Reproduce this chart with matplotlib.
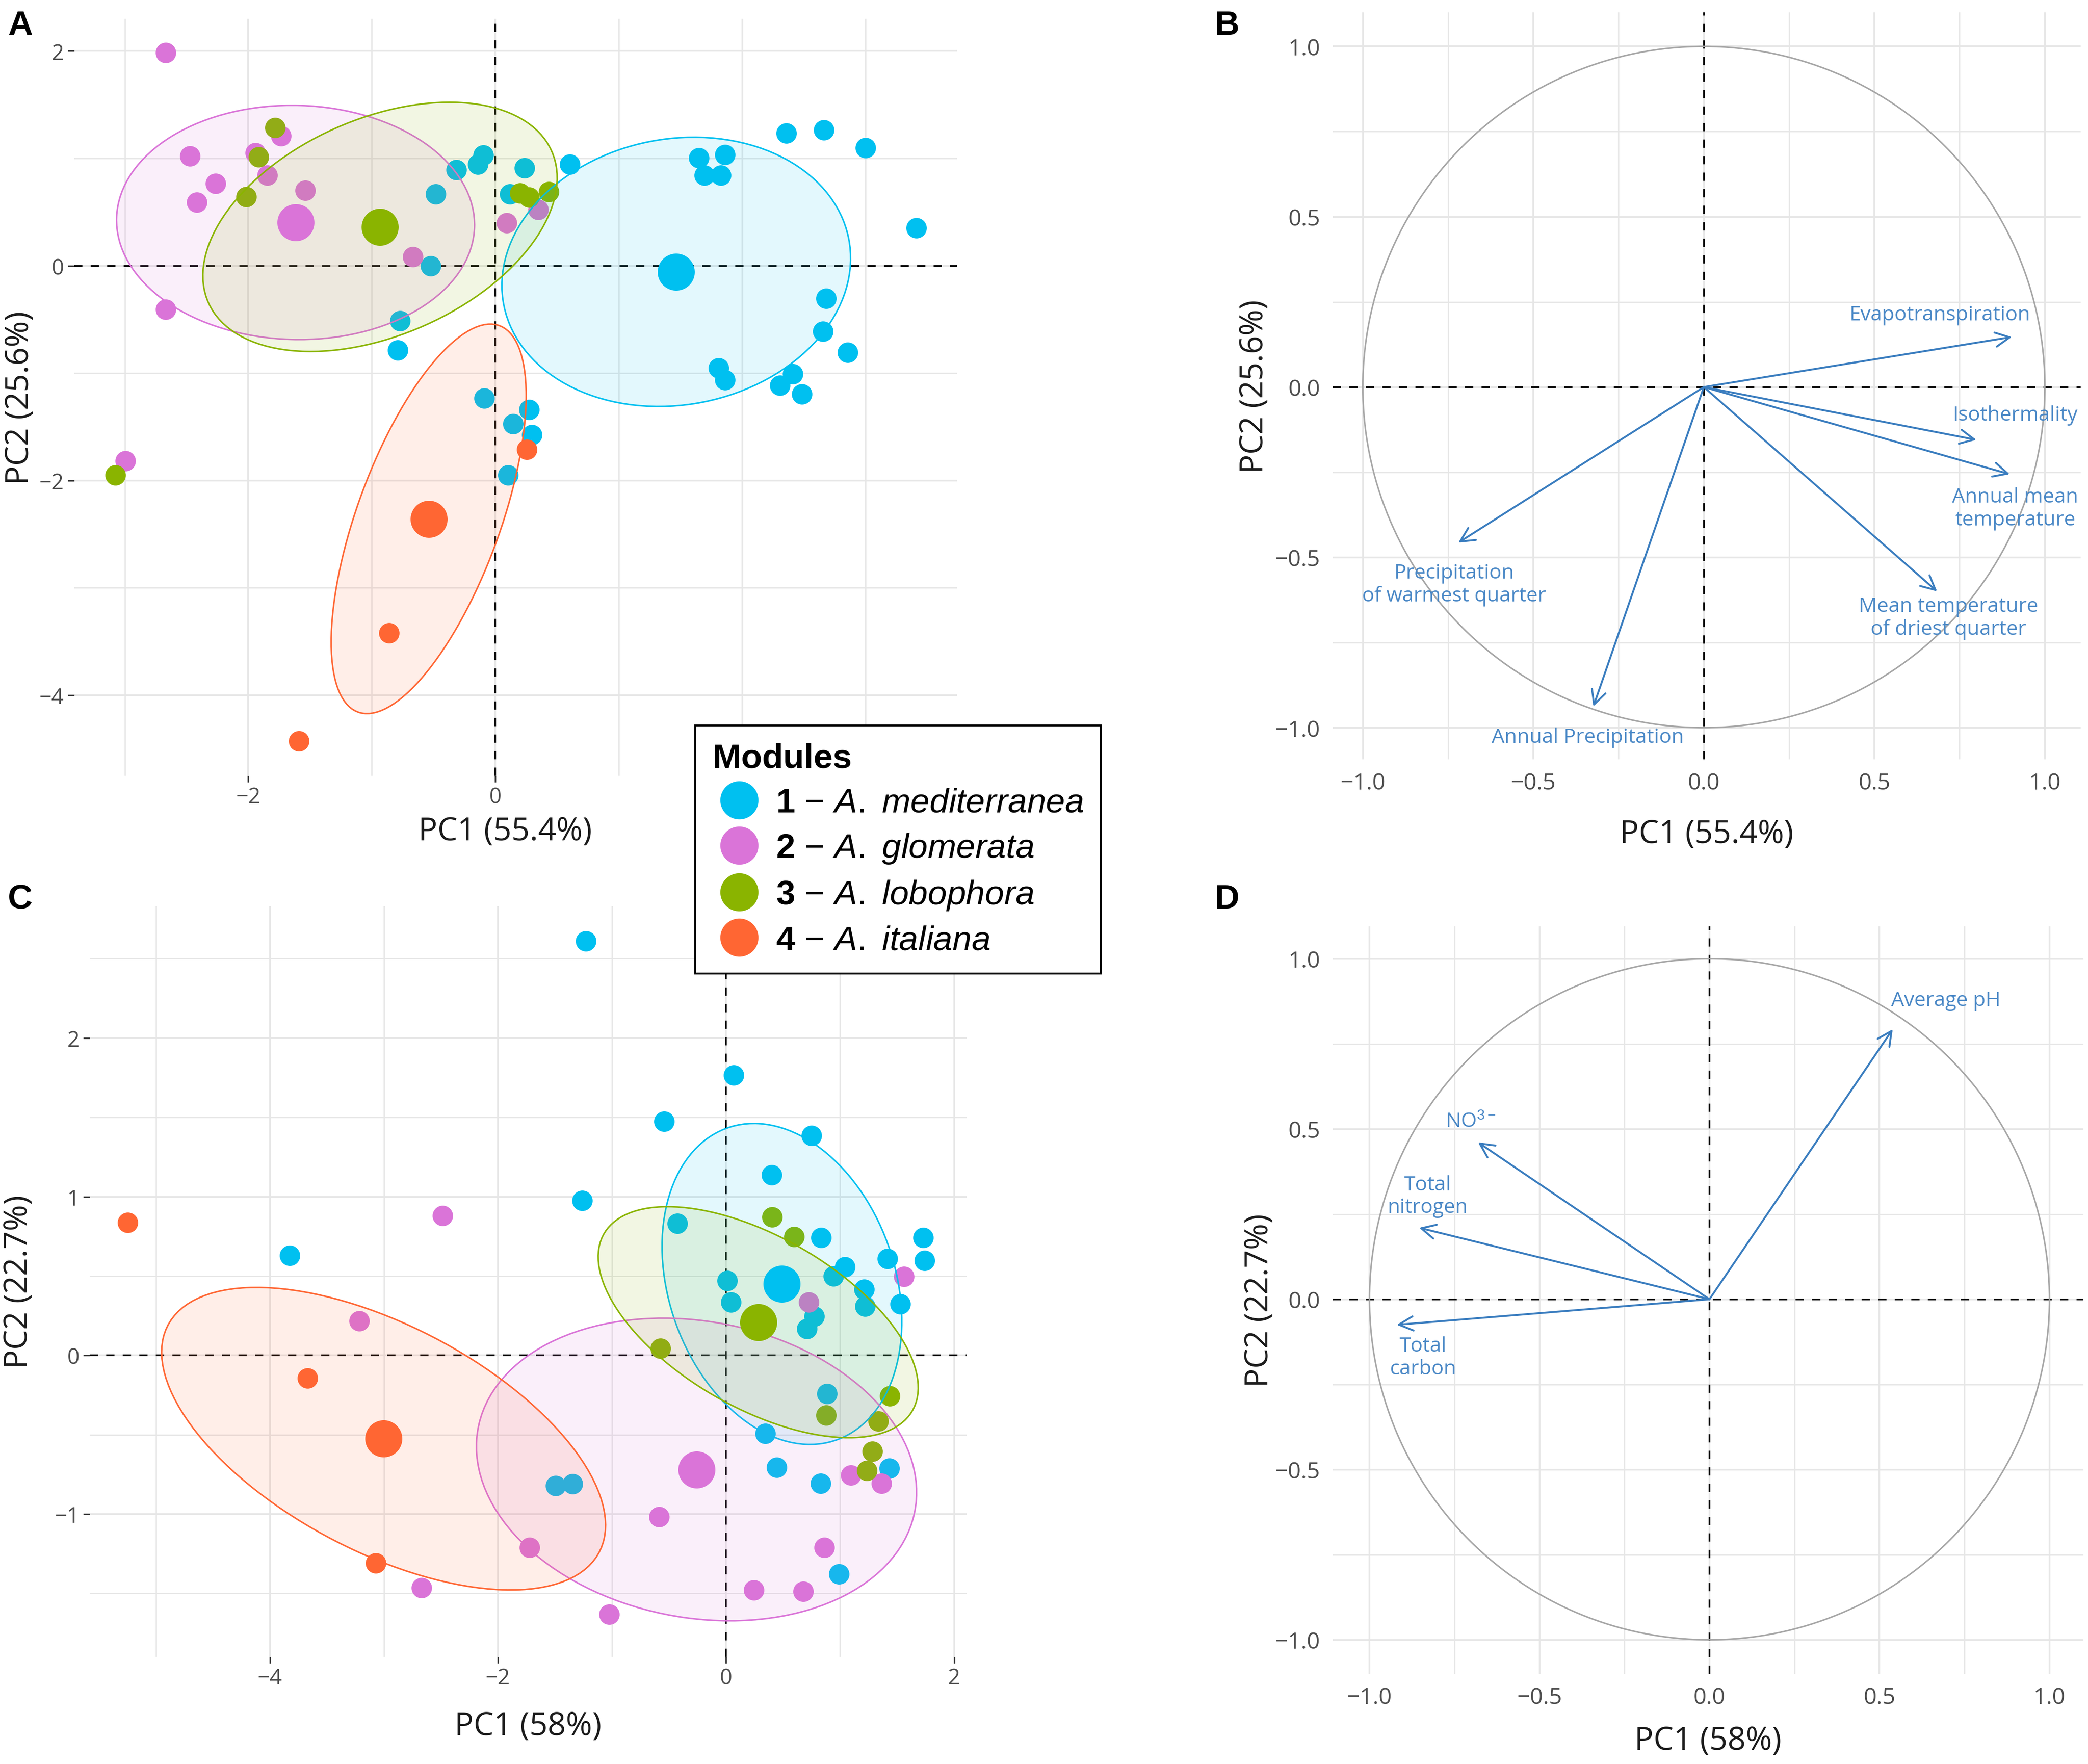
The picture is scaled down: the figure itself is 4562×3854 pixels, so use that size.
import numpy as np
import matplotlib
matplotlib.use("Agg")
import matplotlib.pyplot as plt
from matplotlib.patches import Ellipse, Circle
from matplotlib.lines import Line2D
from matplotlib.ticker import MultipleLocator

plt.rcParams['font.family'] = ['Open Sans', 'DejaVu Sans']
plt.rcParams['mathtext.fontset'] = 'custom'
plt.rcParams['mathtext.rm'] = 'Liberation Sans'
plt.rcParams['mathtext.it'] = 'Liberation Sans:italic'
plt.rcParams['mathtext.bf'] = 'Liberation Sans:bold'

# ---- data ----
modules = ['1', '2', '3', '4']
species = ['A. mediterranea', 'A. glomerata', 'A. lobophora', 'A. italiana']
colors = ['#00C0F0', '#DA74D8', '#8AB400', '#FF6633']

# panel A: individuals (climate PCA)
a_pc1 = [0.606, 0.238, -0.098, -0.140, -0.316, -0.482, -0.523, -0.772, -0.788, 0.119,
         1.648, 1.860, 1.694, 1.829, 2.358, 2.663, 3.000, 3.409, 2.679, 2.653,
         2.855, 1.808, 1.860, 2.409, 2.306, 2.482, -0.088, 0.275, 0.145, 0.295, 0.104,
         -2.668, -2.472, -2.415, -2.264, -1.943, -1.845, -1.736, -1.539, -0.668, 0.093, 0.347, -2.668, -2.995,
         -1.782, -1.917, -2.016, 0.202, 0.275, 0.435, -3.078,
         0.254, -0.860, -1.591]
a_pc2 = [0.946, 0.910, 1.028, 0.946, 0.894, 0.667, 0.000, -0.512, -0.786, 0.667,
         1.003, 1.034, 0.842, 0.842, 1.235, 1.266, 1.100, 0.351, -0.305, -0.610,
         -0.806, -0.951, -1.065, -1.008, -1.116, -1.194, -1.235, -1.339, -1.473, -1.576, -1.948,
         1.984, 1.023, 0.589, 0.765, 1.049, 0.842, 1.209, 0.703, 0.083, 0.398, 0.522, -0.408, -1.819,
         1.287, 1.013, 0.641, 0.677, 0.636, 0.687, -1.948,
         -1.711, -3.421, -4.424]
a_module = [1] * 31 + [2] * 13 + [3] * 7 + [4] * 3

# group means and concentration ellipses (semi-axes, angle in degrees)
a_mean_pc1 = [1.466, -1.617, -0.933, -0.539]
a_mean_pc2 = [-0.057, 0.403, 0.362, -2.357]
a_ell_a = [1.435, 1.450, 1.564, 1.889]
a_ell_b = [1.227, 1.090, 0.979, 0.587]
a_ell_angle = [20.1, -2.0, 30.7, 72.9]

# panel C: individuals (soil PCA)
c_pc1 = [-1.228, 0.068, -0.541, 0.749, 0.400, -1.262, -0.428, -3.825, 0.834, 1.730,
         1.741, 1.414, 1.042, 0.941, 0.011, 1.211, 0.045, 1.527, 1.217, 0.772,
         0.710, 0.885, 0.344, 0.445, 1.431, 0.828, -1.493, -1.346, 0.992,
         -2.485, 1.561, 0.727, -3.217, 1.093, 1.363, -0.586, -1.724, -2.670, -1.025, 0.242, 0.676, 0.862,
         0.406, 0.597, -0.575, 1.437, 0.879, 1.335, 1.285, 1.234,
         -5.245, -3.668, -3.070]
c_pc2 = [2.612, 1.766, 1.475, 1.385, 1.137, 0.975, 0.831, 0.629, 0.741, 0.741,
         0.597, 0.608, 0.558, 0.500, 0.471, 0.417, 0.335, 0.324, 0.309, 0.245,
         0.169, -0.241, -0.493, -0.705, -0.712, -0.806, -0.820, -0.809, -1.378,
         0.881, 0.496, 0.335, 0.216, -0.755, -0.806, -1.018, -1.212, -1.464, -1.633, -1.478, -1.489, -1.212,
         0.871, 0.748, 0.043, -0.255, -0.378, -0.414, -0.604, -0.727,
         0.838, -0.144, -1.309]
c_module = [1] * 29 + [2] * 13 + [3] * 8 + [4] * 3

c_mean_pc1 = [0.490, -0.259, 0.282, -3.003]
c_mean_pc2 = [0.450, -0.719, 0.209, -0.525]
c_ell_a = [1.147, 1.937, 1.474, 2.034]
c_ell_b = [0.901, 0.939, 0.571, 0.748]
c_ell_angle = [-40.3, -5.6, -19.4, -18.2]

# panel B: variable loadings (climate)
b_vars = ['Evapotranspiration', 'Isothermality', 'Annual mean\ntemperature',
          'Mean temperature\nof driest quarter', 'Precipitation\nof warmest quarter',
          'Annual Precipitation']
b_pc1 = [0.903, 0.799, 0.897, 0.684, -0.720, -0.324]
b_pc2 = [0.147, -0.155, -0.256, -0.600, -0.457, -0.938]
b_lab_x = [0.692, 0.913, 0.913, 0.717, -0.732, -0.340]
b_lab_y = [0.212, -0.082, -0.356, -0.677, -0.579, -1.028]

# panel D: variable loadings (soil)
d_vars = ['Average pH', 'NO$^{3-}$', 'Total\nnitrogen', 'Total\ncarbon']
d_pc1 = [0.539, -0.681, -0.854, -0.920]
d_pc2 = [0.793, 0.461, 0.210, -0.075]
d_lab_x = [0.695, -0.703, -0.829, -0.842]
d_lab_y = [0.877, 0.521, 0.303, -0.171]

W, H = 4562, 3855
fig = plt.figure(figsize=(W / 200, H / 200), dpi=200)


def box(l, t, r, b):
    return [l / W, 1 - b / H, (r - l) / W, (b - t) / H]


grid_col = '#E6E6E6'
tick_col = '#4D4D4D'
arrow_col = '#3A7DBF'
label_col = '#4A88C6'


def base_axes(ax, major, minor, ticks, labsize):
    for s in ax.spines.values():
        s.set_visible(False)
    ax.xaxis.set_major_locator(MultipleLocator(major[0]))
    ax.yaxis.set_major_locator(MultipleLocator(major[1]))
    ax.xaxis.set_minor_locator(MultipleLocator(minor[0]))
    ax.yaxis.set_minor_locator(MultipleLocator(minor[1]))
    ax.grid(True, which='major', color=grid_col, lw=1.3, zorder=0)
    ax.grid(True, which='minor', color=grid_col, lw=1.0, zorder=0)
    ax.set_axisbelow(True)
    ax.tick_params(which='minor', length=0)
    if ticks:
        ax.tick_params(which='major', length=5, width=1.2, color='#333333',
                       labelsize=labsize, labelcolor=tick_col, pad=3)
    else:
        ax.tick_params(which='major', length=0, labelsize=labsize,
                       labelcolor=tick_col, pad=10)
    ax.axhline(0, color='black', lw=1.3, ls=(0, (5, 5)), zorder=1)
    ax.axvline(0, color='black', lw=1.3, ls=(0, (5, 5)), zorder=1)


def set_labels(ax, xl, yl, xy, yx, xx=0.5):
    ax.set_xlabel(xl, fontsize=25, color='#1A1A1A')
    ax.set_ylabel(yl, fontsize=25, color='#1A1A1A')
    ax.xaxis.set_label_coords(xx, xy)
    ax.yaxis.set_label_coords(yx, 0.5)
    ax.xaxis.label.set_verticalalignment('center')
    ax.yaxis.label.set_verticalalignment('center')


def individuals(ax, pc1, pc2, mod, mx, my, ea, eb, eang):
    pc1 = np.array(pc1)
    pc2 = np.array(pc2)
    mod = np.array(mod)
    for k in range(4):
        sel = mod == k + 1
        ax.scatter(pc1[sel], pc2[sel], s=260, color=colors[k], lw=0, zorder=2)
    for k in range(4):
        ax.add_patch(Ellipse((mx[k], my[k]), 2 * ea[k], 2 * eb[k], angle=eang[k],
                             facecolor=colors[k], alpha=0.11, lw=0, zorder=3))
        ax.add_patch(Ellipse((mx[k], my[k]), 2 * ea[k], 2 * eb[k], angle=eang[k],
                             facecolor='none', edgecolor=colors[k], lw=1.2, zorder=3))
    for k in range(4):
        ax.scatter([mx[k]], [my[k]], s=850, color=colors[k], lw=0, zorder=4)


def loadings(ax, px, py, names, lx, ly):
    ax.add_patch(Circle((0, 0), 1, facecolor='none', edgecolor='#A6A6A6', lw=1.2, zorder=2))
    for x, y in zip(px, py):
        ax.annotate('', xy=(x, y), xytext=(0, 0),
                    arrowprops=dict(arrowstyle='->', color=arrow_col, lw=1.5,
                                    mutation_scale=28, shrinkA=0, shrinkB=0), zorder=3)
    for name, x, y in zip(names, lx, ly):
        ax.text(x, y, name, ha='center', va='center', fontsize=16,
                color=label_col, linespacing=1.15, zorder=4)


# ---- panel A ----
axA = fig.add_axes(box(162, 42, 2091, 1696))
base_axes(axA, (2, 2), (1, 1), True, 17)
individuals(axA, a_pc1, a_pc2, a_module, a_mean_pc1, a_mean_pc2, a_ell_a, a_ell_b, a_ell_angle)
axA.set_xlim(-3.41, 3.74)
axA.set_ylim(-4.75, 2.30)
set_labels(axA, 'PC1 (55.4%)', 'PC2 (25.6%)', -0.0738, -0.061, 0.488)

# ---- panel B ----
axB = fig.add_axes(box(2912, 28, 4546, 1660))
base_axes(axB, (0.5, 0.5), (0.25, 0.25), False, 18)
loadings(axB, b_pc1, b_pc2, b_vars, b_lab_x, b_lab_y)
axB.set_xlim(-1.088, 1.105)
axB.set_ylim(-1.093, 1.10)
axB.xaxis.set_major_formatter(lambda v, p: f'{v:.1f}'.replace('-', '\u2212'))
axB.yaxis.set_major_formatter(lambda v, p: f'{v:.1f}'.replace('-', '\u2212'))
set_labels(axB, 'PC1 (55.4%)', 'PC2 (25.6%)', -0.1005, -0.1047)

# ---- panel C ----
axC = fig.add_axes(box(196, 1981, 2112, 3621))
base_axes(axC, (2, 1), (1, 0.5), True, 17)
individuals(axC, c_pc1, c_pc2, c_module, c_mean_pc1, c_mean_pc2, c_ell_a, c_ell_b, c_ell_angle)
axC.set_xlim(-5.58, 2.11)
axC.set_ylim(-1.90, 2.83)
set_labels(axC, 'PC1 (58%)', 'PC2 (22.7%)', -0.0927, -0.081)

# ---- panel D ----
axD = fig.add_axes(box(2912, 2025, 4552, 3658))
base_axes(axD, (0.5, 0.5), (0.25, 0.25), False, 18)
loadings(axD, d_pc1, d_pc2, d_vars, d_lab_x, d_lab_y)
axD.set_xlim(-1.108, 1.10)
axD.set_ylim(-1.10, 1.095)
axD.xaxis.set_major_formatter(lambda v, p: f'{v:.1f}'.replace('-', '\u2212'))
axD.yaxis.set_major_formatter(lambda v, p: f'{v:.1f}'.replace('-', '\u2212'))
set_labels(axD, 'PC1 (58%)', 'PC2 (22.7%)', -0.090, -0.0976)

# panel letters
for letter, x, y in [('A', 17, 22), ('B', 2654, 22), ('C', 17, 1931), ('D', 2654, 1931)]:
    fig.text(x / W, 1 - y / H, letter, ha='left', va='top', fontsize=27,
             fontweight='bold', family='Liberation Sans')

# legend
handles = [Line2D([], [], marker='o', ls='', markersize=30, color=c, markeredgewidth=0)
           for c in colors]
labels = [r'$\mathbf{%s}$' % m + ' \u2212 ' + r'$\mathit{%s}$' % s.replace(' ', r'\ ')
          for m, s in zip(modules, species)]
leg = fig.legend(handles, labels, loc='upper left',
                 bbox_to_anchor=(1519 / W, 1 - 1586 / H), bbox_transform=fig.transFigure,
                 borderaxespad=0,
                 title='Modules', alignment='left', frameon=True, fancybox=False,
                 edgecolor='black', framealpha=1,
                 prop={'family': 'Liberation Sans', 'size': 27},
                 title_fontproperties={'family': 'Liberation Sans', 'weight': 'bold', 'size': 27},
                 handlelength=1.55, handletextpad=0.3, labelspacing=0.38, borderpad=0.5)
leg.get_frame().set_linewidth(1.5)

fig.savefig('out.png', dpi=200, facecolor='white')
